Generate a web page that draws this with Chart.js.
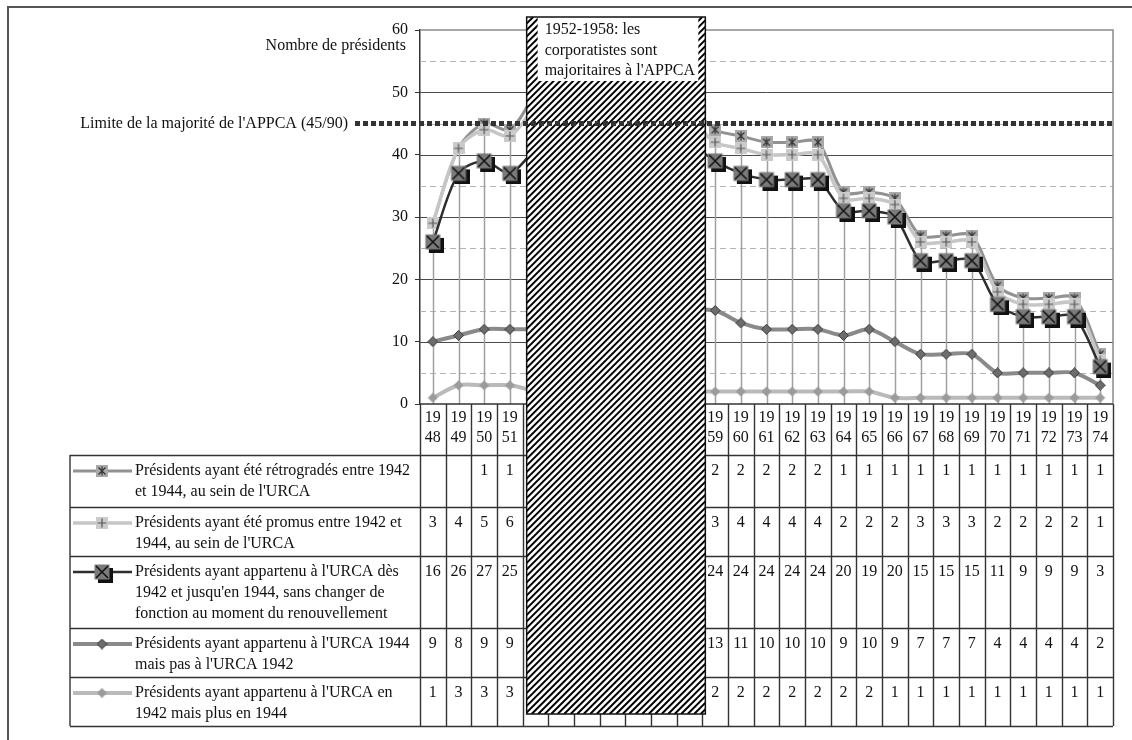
<!DOCTYPE html>
<html lang="fr">
<head>
<meta charset="utf-8">
<script src="https://cdn.jsdelivr.net/npm/chart.js@4.4.1/dist/chart.umd.min.js"></script>
<style>
html, body { margin: 0; padding: 0; background: #fff; }
#cadre { width: 1132px; height: 740px; }
</style>
</head>
<body>
<div id="cadre"><canvas id="graphique" width="1132" height="740"></canvas></div>
<script>
// Années (1952-1958 cachées sous la zone hachurée)
const annees = ['1948','1949','1950','1951','1952','1953','1954','1955','1956','1957','1958',
  '1959','1960','1961','1962','1963','1964','1965','1966','1967','1968','1969','1970','1971','1972','1973','1974'];

// Valeurs lues dans le tableau (1952 et 1958 estimées d'après les segments visibles)
const retrogrades = [null,null,1,1, 2, null,null,null,null,null, 2,
  2,2,2,2,2,1,1,1,1,1,1,1,1,1,1,1];
const promus = [3,4,5,6, 7, null,null,null,null,null, 4,
  3,4,4,4,4,2,2,2,3,3,3,2,2,2,2,1];
const des1942 = [16,26,27,25, 29, null,null,null,null,null, 27,
  24,24,24,24,24,20,19,20,15,15,15,11,9,9,9,3];
const pas1942 = [9,8,9,9, 10, null,null,null,null,null, 13,
  13,11,10,10,10,9,10,9,7,7,7,4,4,4,4,2];
const plus1944 = [1,3,3,3, 2, null,null,null,null,null, 2,
  2,2,2,2,2,2,2,1,1,1,1,1,1,1,1,1];

const libelles = {
  retrogrades: ["Présidents ayant été rétrogradés entre 1942", "et 1944, au sein de l'URCA"],
  promus: ["Présidents ayant été promus entre 1942 et", "1944, au sein de l'URCA"],
  des1942: ["Présidents ayant appartenu à l'URCA dès", "1942 et jusqu'en 1944, sans changer de", "fonction au moment du renouvellement"],
  pas1942: ["Présidents ayant appartenu à l'URCA 1944", "mais pas à l'URCA 1942"],
  plus1944: ["Présidents ayant appartenu à l'URCA en", "1942 mais plus en 1944"]
};

const majorite = 45;
const texteMajorite = "Limite de la majorité de l'APPCA (45/90)";
const titreY = "Nombre de présidents";
const texteZone = ["1952-1958: les", "corporatistes sont", "majoritaires à l'APPCA"];
const premiereCachee = '1952', derniereCachee = '1958';

const police = '"Liberation Serif", "Times New Roman", serif';

function marqueur(type){
  const c = document.createElement('canvas');
  const g = c.getContext('2d');
  if(type == 'croix'){
    c.width = c.height = 22;
    g.fillStyle = '#111'; g.fillRect(7, 7, 15, 15);
    g.fillStyle = '#7a7a7a'; g.fillRect(3.5, 3.5, 15, 15);
    g.strokeStyle = '#111'; g.lineWidth = 1.5;
    g.beginPath(); g.moveTo(5, 5); g.lineTo(17, 17); g.moveTo(17, 5); g.lineTo(5, 17); g.stroke();
  }
  else if(type == 'etoile' || type == 'plus'){
    c.width = c.height = 12;
    g.fillStyle = type == 'etoile' ? '#a9a9a9' : '#cbcbcb';
    g.fillRect(0, 0, 12, 12);
    g.strokeStyle = type == 'etoile' ? '#333' : '#555'; g.lineWidth = 1.2;
    g.beginPath();
    g.moveTo(6, 1.5); g.lineTo(6, 10.5);
    if(type == 'etoile'){ g.moveTo(2.5, 2.5); g.lineTo(9.5, 9.5); g.moveTo(9.5, 2.5); g.lineTo(2.5, 9.5); }
    else { g.moveTo(1.5, 6); g.lineTo(10.5, 6); }
    g.stroke();
  }
  else {
    c.width = c.height = 11;
    g.beginPath(); g.moveTo(5.5, 0.5); g.lineTo(10.5, 5.5); g.lineTo(5.5, 10.5); g.lineTo(0.5, 5.5); g.closePath();
    g.fillStyle = type == 'losangeFonce' ? '#6c6c6c' : '#9b9b9b'; g.fill();
    if(type == 'losangeFonce'){ g.strokeStyle = '#3a3a3a'; g.lineWidth = 1; g.stroke(); }
  }
  return c;
}

// Ordre d'empilement : du bas vers le haut
const series = [
  { cle: 'plus1944', valeurs: plus1944, couleur: '#bababa', epaisseur: 4, point: marqueur('losangeClair') },
  { cle: 'pas1942', valeurs: pas1942, couleur: '#8a8a8a', epaisseur: 4, point: marqueur('losangeFonce') },
  { cle: 'des1942', valeurs: des1942, couleur: '#2e2e2e', epaisseur: 2.5, point: marqueur('croix') },
  { cle: 'promus', valeurs: promus, couleur: '#c6c6c6', epaisseur: 3.5, point: marqueur('plus') },
  { cle: 'retrogrades', valeurs: retrogrades, couleur: '#929292', epaisseur: 3, point: marqueur('etoile') }
];
// Ordre du tableau : du haut vers le bas
const ordreTableau = ['retrogrades', 'promus', 'des1942', 'pas1942', 'plus1944'];
const hauteursLignes = [52, 49, 72, 49, 49];

function colonneVide(i){
  return series.every(s => s.valeurs[i] == null);
}

const decor = {
  id: 'decor',
  beforeDatasetsDraw(chart){
    const {ctx, chartArea: a, scales: {x, y}} = chart;
    ctx.save();
    // grille secondaire en tirets
    ctx.strokeStyle = '#b3b3b3'; ctx.lineWidth = 1; ctx.setLineDash([6, 4]);
    for(let v = 5; v < 60; v += 10){
      const py = Math.round(y.getPixelForValue(v)) + 0.5;
      ctx.beginPath(); ctx.moveTo(a.left, py); ctx.lineTo(a.right, py); ctx.stroke();
    }
    ctx.setLineDash([]);
    ctx.strokeStyle = '#4a4a4a';
    for(let v = 10; v < 60; v += 10){
      const py = Math.round(y.getPixelForValue(v)) + 0.5;
      ctx.beginPath(); ctx.moveTo(a.left, py); ctx.lineTo(a.right, py); ctx.stroke();
    }
    // cadre haut et droit
    ctx.strokeStyle = '#8a8a8a'; ctx.lineWidth = 1.5;
    ctx.beginPath(); ctx.moveTo(a.left, a.top); ctx.lineTo(a.right, a.top); ctx.lineTo(a.right, a.bottom); ctx.stroke();
    // lignes de projection
    ctx.strokeStyle = '#a0a0a0'; ctx.lineWidth = 1.5;
    annees.forEach((an, i) => {
      if(colonneVide(i)) return;
      const total = series.reduce((t, s) => t + (s.valeurs[i] ?? 0), 0);
      const px = Math.round(x.getPixelForValue(i)) + 0.5;
      ctx.beginPath(); ctx.moveTo(px, y.getPixelForValue(0)); ctx.lineTo(px, y.getPixelForValue(total)); ctx.stroke();
    });
    ctx.restore();
  },
  afterDraw(chart){
    const {ctx, chartArea: a, scales: {x, y}} = chart;
    const demi = (a.right - a.left) / annees.length / 2;
    ctx.save();
    ctx.font = '16px ' + police;
    ctx.fillStyle = '#111';
    ctx.textBaseline = 'middle';

    // axe horizontal
    ctx.strokeStyle = '#333'; ctx.lineWidth = 1.5;
    ctx.beginPath(); ctx.moveTo(a.left, a.bottom); ctx.lineTo(a.right, a.bottom); ctx.stroke();

    // tableau de données
    const hautTableau = a.bottom;
    const hautLegende = hautTableau + 51;
    const basTableau = hautLegende + hauteursLignes.reduce((t, h) => t + h, 0);
    const gaucheLegende = 70;
    ctx.strokeStyle = '#333'; ctx.lineWidth = 1.4;
    for(let k = 0; k <= annees.length; k++){
      const px = Math.round(a.left + k * 2 * demi) + 0.5;
      ctx.beginPath(); ctx.moveTo(px, hautTableau); ctx.lineTo(px, basTableau); ctx.stroke();
    }
    ctx.beginPath(); ctx.moveTo(gaucheLegende, hautLegende); ctx.lineTo(gaucheLegende, basTableau); ctx.stroke();
    let yl = hautLegende;
    const hautsLignes = [];
    hauteursLignes.forEach(h => { hautsLignes.push(yl); yl += h; });
    hautsLignes.concat([basTableau]).forEach(py => {
      ctx.beginPath(); ctx.moveTo(gaucheLegende, Math.round(py) + 0.5); ctx.lineTo(a.right, Math.round(py) + 0.5); ctx.stroke();
    });
    // en-têtes années
    ctx.textAlign = 'center';
    annees.forEach((an, i) => {
      const px = x.getPixelForValue(i);
      ctx.fillText(an.slice(0, 2), px, hautTableau + 14);
      ctx.fillText(an.slice(2), px, hautTableau + 34);
    });
    // lignes de séries
    ordreTableau.forEach((cle, r) => {
      const s = series.find(d => d.cle == cle);
      const top = hautsLignes[r];
      const cy = top + 16;
      ctx.strokeStyle = s.couleur; ctx.lineWidth = s.epaisseur;
      ctx.beginPath(); ctx.moveTo(73, cy); ctx.lineTo(132, cy); ctx.stroke();
      ctx.drawImage(s.point, 102 - s.point.width / 2, cy - s.point.height / 2);
      ctx.textAlign = 'left';
      libelles[cle].forEach((t, j) => ctx.fillText(t, 135, cy + j * 21));
      ctx.textAlign = 'center';
      s.valeurs.forEach((v, i) => {
        if(v != null) ctx.fillText(String(v), x.getPixelForValue(i), cy);
      });
    });

    // zone hachurée 1952-1958
    const zg = x.getPixelForValue(annees.indexOf(premiereCachee)) - demi + 4;
    const zd = x.getPixelForValue(annees.indexOf(derniereCachee)) + demi + 3;
    const zh = 17, zb = basTableau - 12;
    ctx.fillStyle = '#fff';
    ctx.fillRect(zg, zh, zd - zg, zb - zh);
    ctx.save();
    ctx.beginPath(); ctx.rect(zg, zh, zd - zg, zb - zh); ctx.clip();
    ctx.strokeStyle = '#000'; ctx.lineWidth = 2;
    const hz = zb - zh;
    for(let k = -hz; k < zd - zg; k += 6.5){
      ctx.beginPath(); ctx.moveTo(zg + k, zb); ctx.lineTo(zg + k + hz, zh); ctx.stroke();
    }
    ctx.restore();
    ctx.fillStyle = '#fff';
    ctx.fillRect(zg + 11, zh, zd - zg - 18, 64);
    ctx.strokeStyle = '#111'; ctx.lineWidth = 1.5;
    ctx.strokeRect(zg, zh, zd - zg, zb - zh);
    ctx.fillStyle = '#111'; ctx.textAlign = 'left';
    texteZone.forEach((t, j) => ctx.fillText(t, zg + 18, zh + 13 + j * 20.5));

    // limite de majorité
    const ym = y.getPixelForValue(majorite);
    ctx.strokeStyle = '#333'; ctx.lineWidth = 5; ctx.setLineDash([5, 3]);
    ctx.beginPath(); ctx.moveTo(355, ym); ctx.lineTo(a.right + 2, ym); ctx.stroke();
    ctx.setLineDash([]);
    ctx.textAlign = 'right';
    ctx.fillText(texteMajorite, 348, ym);

    // titre de l'axe
    ctx.fillText(titreY, 406, a.top + 16);

    // cadre extérieur
    ctx.strokeStyle = '#555'; ctx.lineWidth = 2;
    ctx.beginPath(); ctx.moveTo(8, 740); ctx.lineTo(8, 7); ctx.lineTo(1132, 7); ctx.stroke();
    ctx.restore();
  }
};

new Chart('graphique', {
  type: 'line',
  data: {
    labels: annees,
    datasets: series.map(s => ({
      label: libelles[s.cle].join(' '),
      data: s.valeurs.map((v, i) => colonneVide(i) ? null : (v ?? 0)),
      borderColor: s.couleur,
      borderWidth: s.epaisseur,
      pointStyle: s.point,
      pointRadius: 6,
      tension: 0.3,
      fill: false,
      spanGaps: false
    }))
  },
  options: {
    responsive: false,
    animation: false,
    layout: { padding: { left: 0, top: 30, right: 19, bottom: 336 } },
    plugins: { legend: { display: false }, tooltip: { enabled: false } },
    scales: {
      x: { type: 'category', offset: true, display: false },
      y: {
        stacked: true,
        min: 0, max: 60,
        afterFit(scale){ scale.width = 420; },
        ticks: { stepSize: 10, color: '#111', padding: 7, font: { family: police, size: 16 } },
        grid: { drawOnChartArea: false, tickLength: 5, color: '#333' },
        border: { display: true, color: '#333', width: 1.5 }
      }
    }
  },
  plugins: [decor]
});
</script>
</body>
</html>
